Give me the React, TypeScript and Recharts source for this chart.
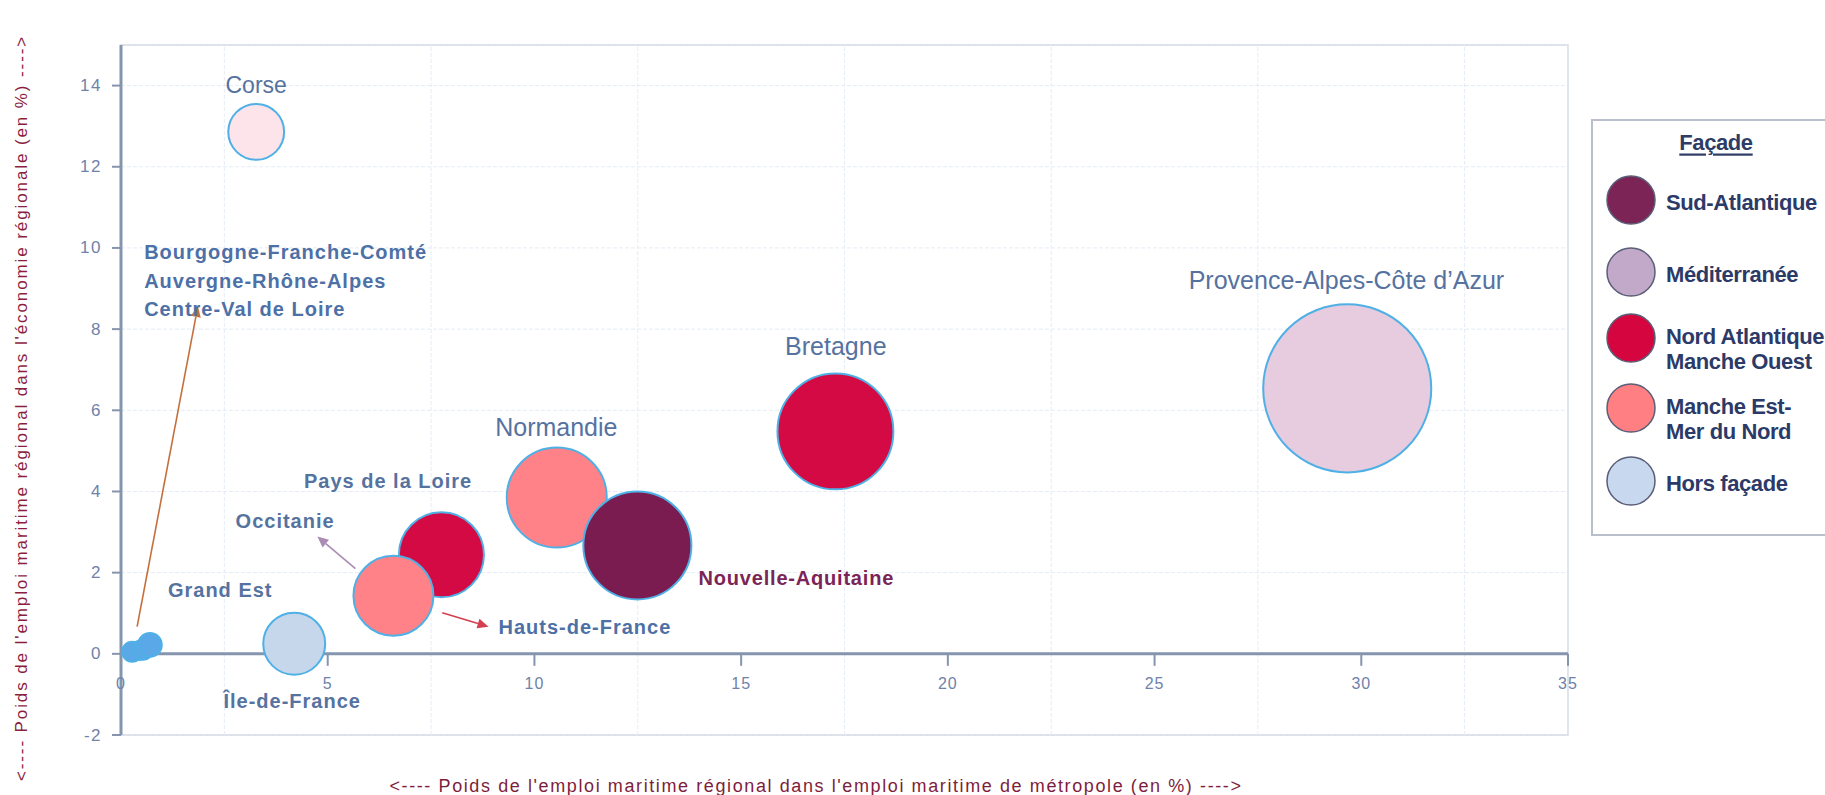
import React from 'react';
import {
  ScatterChart, Scatter, XAxis, YAxis, ZAxis, CartesianGrid,
  ReferenceLine, ReferenceDot, ReferenceArea,
} from 'recharts';

const W = 1825;
const H = 795;

// ---------- data ----------
const xTicks = [0, 5, 10, 15, 20, 25, 30, 35];
const yTicks = [-2, 0, 2, 4, 6, 8, 10, 12, 14];
const gridX = [2.5, 7.5, 12.5, 17.5, 22.5, 27.5, 32.5];

// x: poids dans l'emploi maritime de métropole (%), y: poids dans l'économie régionale (%), z: taille de bulle
const horsFacade = [
  { name: 'Grand Est', x: 0.45, y: 0.08, z: 9 },
  { name: 'Bourgogne-Franche-Comté', x: 0.27, y: 0.05, z: 10 },
  { name: 'Auvergne-Rhône-Alpes', x: 0.53, y: 0.1, z: 10 },
  { name: 'Centre-Val de Loire', x: 0.7, y: 0.22, z: 14 },
  { name: 'Île-de-France', x: 4.19, y: 0.25, z: 96 },
];
const mediterranee = [
  { name: 'Occitanie', x: 6.59, y: 1.43, z: 155 },
  { name: 'Corse', x: 3.27, y: 12.86, z: 78 },
  { name: "Provence-Alpes-Côte d'Azur", x: 29.66, y: 6.54, z: 706 },
];
const nordAtlantique = [
  { name: 'Pays de la Loire', x: 7.75, y: 2.44, z: 181 },
  { name: 'Bretagne', x: 17.28, y: 5.48, z: 336 },
];
const mancheEst = [
  { name: 'Normandie', x: 10.54, y: 3.85, z: 250 },
  { name: 'Hauts-de-France', x: 6.59, y: 1.43, z: 160 },
];
const sudAtlantique = [
  { name: 'Nouvelle-Aquitaine', x: 12.49, y: 2.67, z: 292 },
];

const facadeNames = [
  ['Sud-Atlantique'],
  ['Méditerranée'],
  ['Nord Atlantique', 'Manche Ouest'],
  ['Manche Est-', 'Mer du  Nord'],
  ['Hors façade'],
];

// annotation texts placed in data coordinates
const labels = [
  { text: 'Corse', x: 3.27, y: 14.02, kind: 'corse' },
  { text: 'Bourgogne-Franche-Comté', x: 0.56, y: 9.9, kind: 'boldStart' },
  { text: 'Auvergne-Rhône-Alpes', x: 0.56, y: 9.19, kind: 'boldStart' },
  { text: 'Centre-Val de Loire', x: 0.56, y: 8.5, kind: 'boldStart' },
  { text: 'Provence-Alpes-Côte d\u2019Azur', x: 29.64, y: 9.21, kind: 'big' },
  { text: 'Bretagne', x: 17.29, y: 7.58, kind: 'big' },
  { text: 'Normandie', x: 10.53, y: 5.6, kind: 'big' },
  { text: 'Pays de la Loire', x: 6.46, y: 4.25, kind: 'bold' },
  { text: 'Occitanie', x: 3.97, y: 3.28, kind: 'bold' },
  { text: 'Grand Est', x: 2.4, y: 1.58, kind: 'bold' },
  { text: 'Île-de-France', x: 4.14, y: -1.17, kind: 'bold' },
  { text: 'Hauts-de-France', x: 9.13, y: 0.67, kind: 'boldStart' },
  { text: 'Nouvelle-Aquitaine', x: 13.97, y: 1.88, kind: 'maroon' },
];

const arrows = [
  { from: [0.39, 0.67], to: [1.86, 8.57], kind: 'orange' },
  { from: [5.67, 2.1], to: [4.75, 2.89], kind: 'mauve' },
  { from: [7.77, 1.01], to: [8.89, 0.67], kind: 'red' },
];

// ---------- styles ----------
const FONT = "'Liberation Sans', Arial, sans-serif";
const LABEL_BLUE = '#56729f';
const AXIS = '#8595ae';
const BUBBLE_STROKE = '#4fb0e6';

const facadeColors = ['#7d2457', '#c3a9c9', '#d5063f', '#ff7f83', '#c8d9ef'];

const pointFill: Record<string, string> = {
  'Grand Est': '#5aa8e8',
  'Bourgogne-Franche-Comté': '#5aa8e8',
  'Auvergne-Rhône-Alpes': '#5aa8e8',
  'Centre-Val de Loire': '#5aa8e8',
  'Île-de-France': '#c6d7ec',
  Occitanie: '#d9bfd6',
  Corse: '#fde3ea',
  "Provence-Alpes-Côte d'Azur": '#e7cbdf',
  'Pays de la Loire': '#d40a44',
  Bretagne: '#d40a44',
  Normandie: '#ff8288',
  'Hauts-de-France': '#ff8288',
  'Nouvelle-Aquitaine': '#7a1c50',
};

const labelStyles: Record<string, any> = {
  corse: { fontSize: 23, fontWeight: 400, fill: LABEL_BLUE, anchor: 'middle', ls: 0 },
  big: { fontSize: 25, fontWeight: 400, fill: LABEL_BLUE, anchor: 'middle', ls: 0 },
  bold: { fontSize: 20, fontWeight: 700, fill: LABEL_BLUE, anchor: 'middle', ls: 1 },
  boldStart: { fontSize: 20, fontWeight: 700, fill: '#4d70a6', anchor: 'start', ls: 1 },
  maroon: { fontSize: 20, fontWeight: 700, fill: '#7b2457', anchor: 'start', ls: 0.8 },
};

const arrowColors: Record<string, string> = {
  orange: '#c4703e',
  mauve: '#a98bb3',
  red: '#d43f50',
};

// ---------- shapes ----------
const Bubble = (props: any) => {
  const { cx, cy, payload } = props;
  const size = props.size ?? 0;
  const r = size > 0 ? Math.sqrt(size / Math.PI) : (props.width || 0) / 2;
  return (
    <circle
      cx={cx}
      cy={cy}
      r={r}
      fill={pointFill[payload.name] || '#ccc'}
      stroke={BUBBLE_STROKE}
      strokeWidth={2}
    />
  );
};

const XTickShape = (props: any) => {
  const { cx, cy, payload } = props;
  return (
    <g>
      <line x1={cx} y1={cy} x2={cx} y2={cy + 12} stroke={AXIS} strokeWidth={2} />
      <text
        x={cx}
        y={cy + 30}
        textAnchor="middle"
        dominantBaseline="central"
        fontFamily={FONT}
        fontSize={16}
        fill="#6f82a9"
        letterSpacing={1}
      >
        {payload.x}
      </text>
    </g>
  );
};

const makeLabelShape = (l: any) => (p: any) => {
  const st = labelStyles[l.kind];
  return (
    <text
      x={p.cx}
      y={p.cy}
      textAnchor={st.anchor}
      dominantBaseline="central"
      fontFamily={FONT}
      fontSize={st.fontSize}
      fontWeight={st.fontWeight}
      fill={st.fill}
      letterSpacing={st.ls}
    >
      {l.text}
    </text>
  );
};

const makeArrowShape = (color: string) => (p: any) => {
  const { x1, y1, x2, y2 } = p;
  if ([x1, y1, x2, y2].some((v) => v == null || isNaN(v))) return null;
  const ang = Math.atan2(y2 - y1, x2 - x1);
  const len = 11;
  const w = 5;
  const bx = x2 - len * Math.cos(ang);
  const by = y2 - len * Math.sin(ang);
  const px = -Math.sin(ang) * w;
  const py = Math.cos(ang) * w;
  return (
    <g>
      <line x1={x1} y1={y1} x2={bx} y2={by} stroke={color} strokeWidth={1.6} />
      <polygon points={`${x2},${y2} ${bx + px},${by + py} ${bx - px},${by - py}`} fill={color} />
    </g>
  );
};

const YTick = (props: any) => {
  const { x, y, payload } = props;
  return (
    <text
      x={x}
      y={y}
      textAnchor="end"
      dominantBaseline="central"
      fontFamily={FONT}
      fontSize={17}
      fill="#6f82a9"
      letterSpacing={1.5}
    >
      {payload.value}
    </text>
  );
};

const xTickPoints = xTicks.map((v) => ({ x: v, y: 0, z: 0 }));

const Legend = () => (
  <svg
    width={W}
    height={H}
    style={{ position: 'absolute', left: 0, top: 0, pointerEvents: 'none' }}
  >
    <rect x={1592} y={120} width={260} height={415} fill="#fff" stroke="#b9c0cc" strokeWidth={2} />
    <text
      x={1716}
      y={142}
      textAnchor="middle"
      dominantBaseline="central"
      fontFamily={FONT}
      fontSize={22}
      fontWeight={700}
      fill="#2e3c66"
      textDecoration="underline"
      letterSpacing={-0.4}
    >
      Façade
    </text>
    {facadeNames.map((lines, i) => {
      const cys = [200, 272, 338, 408, 481];
      const cy = cys[i];
      return (
        <g key={i}>
          <circle cx={1631} cy={cy} r={24} fill={facadeColors[i]} stroke="#5a5e78" strokeWidth={1.5} />
          {lines.map((t, j) => (
            <text
              key={j}
              x={1666}
              y={(lines.length === 1 ? cy + 2 : cy - 2) + j * 25}
              dominantBaseline="central"
              fontFamily={FONT}
              fontSize={22}
              fontWeight={700}
              fill="#2c3a68"
              letterSpacing={-0.4}
            >
              {t}
            </text>
          ))}
        </g>
      );
    })}
    <text
      transform="translate(21,408) rotate(-90)"
      textAnchor="middle"
      dominantBaseline="central"
      fontFamily={FONT}
      fontSize={17}
      fill="#8b1e3f"
      letterSpacing={1.9}
    >
      {"<---- Poids de l'emploi maritime régional dans l'économie régionale (en  %) ---->"}
    </text>
    <text
      x={816}
      y={786}
      textAnchor="middle"
      dominantBaseline="central"
      fontFamily={FONT}
      fontSize={18}
      fill="#7e1d3c"
      letterSpacing={1.6}
    >
      {"<---- Poids de l'emploi maritime régional dans l'emploi maritime de métropole (en  %) ---->"}
    </text>
  </svg>
);

export default function App() {
  return (
    <div
      style={{
        position: 'absolute',
        left: 0,
        top: 0,
        width: W,
        height: H,
        background: '#ffffff',
        fontFamily: FONT,
        overflow: 'hidden',
      }}
    >
      <ScatterChart
        width={W}
        height={H}
        margin={{ top: 45, right: 257, left: 61, bottom: 60 }}
      >
        <CartesianGrid vertical={false} stroke="#e5ecf5" strokeDasharray="4 2" />
        {gridX.map((g) => (
          <ReferenceLine key={g} x={g} stroke="#e5ecf5" strokeDasharray="4 2" />
        ))}
        <ReferenceArea x1={0} x2={35} y1={-2} y2={15} fill="none" stroke="#d6dce5" strokeWidth={1.5} />
        <XAxis type="number" dataKey="x" domain={[0, 35]} ticks={xTicks} hide />
        <YAxis
          type="number"
          dataKey="y"
          domain={[-2, 15]}
          ticks={yTicks}
          width={60}
          axisLine={{ stroke: AXIS, strokeWidth: 3 }}
          tickLine={{ stroke: AXIS, strokeWidth: 2 }}
          tickSize={9}
          tickMargin={10}
          tick={<YTick />}
        />
        <ZAxis type="number" dataKey="z" domain={[0, 1000]} range={[0, 10000 * Math.PI]} />
        <ReferenceLine y={0} stroke={AXIS} strokeWidth={3} />
        <Scatter data={horsFacade} shape={<Bubble />} isAnimationActive={false} />
        <Scatter data={mediterranee} shape={<Bubble />} isAnimationActive={false} />
        <Scatter data={nordAtlantique} shape={<Bubble />} isAnimationActive={false} />
        <Scatter data={mancheEst} shape={<Bubble />} isAnimationActive={false} />
        <Scatter data={sudAtlantique} shape={<Bubble />} isAnimationActive={false} />
        <Scatter data={xTickPoints} shape={<XTickShape />} isAnimationActive={false} />
        {arrows.map((a, i) => (
          <ReferenceLine
            key={'a' + i}
            segment={[
              { x: a.from[0], y: a.from[1] },
              { x: a.to[0], y: a.to[1] },
            ]}
            shape={makeArrowShape(arrowColors[a.kind])}
          />
        ))}
        {labels.map((l, i) => (
          <ReferenceDot key={'l' + i} x={l.x} y={l.y} r={0} shape={makeLabelShape(l)} />
        ))}
      </ScatterChart>
      <Legend />
    </div>
  );
}
